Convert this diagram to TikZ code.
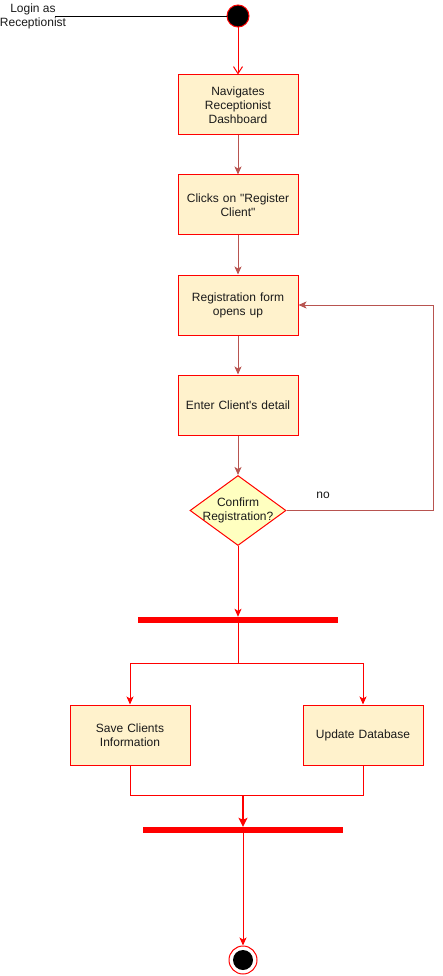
\documentclass[tikz,border=0pt]{standalone}
\usepackage{fontspec}
\setmainfont{Liberation Sans}
\newfontfamily\libsans{Liberation Sans}
\usetikzlibrary{shapes.geometric,arrows.meta}
\definecolor{actfill}{HTML}{FFF2CC}
\definecolor{decfill}{HTML}{FFFFC0}
\definecolor{brline}{HTML}{B85450}
\definecolor{txt}{HTML}{1A1A1A}
\begin{document}
\begin{tikzpicture}[x=1pt,y=-1pt,
  lbl/.style={font=\libsans\fontsize{12}{14}\selectfont, text=txt, align=center},
  act/.style={lbl, draw=red, fill=actfill, line width=1pt, minimum width=120pt, minimum height=60pt, inner sep=0pt, text width=112pt},
  dec/.style={diamond, draw=red, fill=decfill, line width=1pt, minimum width=96pt, minimum height=70pt, inner sep=0pt},
  bar/.style={rectangle, fill=red, draw=none, minimum width=200pt, minimum height=6pt, inner sep=0pt},
  tipS/.style={-{Stealth[length=8pt,width=7pt,inset=2pt]}},
  redarr/.style={draw=red, line width=1pt, tipS},
  brarr/.style={draw=brline, line width=1pt, tipS},
  redln/.style={draw=red, line width=1pt}
]
\useasboundingbox (0,0) rectangle (442,976);

% start
\node[circle, fill=black, draw=red, line width=1pt, minimum size=22pt, inner sep=0pt] (start) at (238,16) {};
\node[lbl, anchor=center] (login) at (33,16) {Login as\\Receptionist};
\coordinate (lstart) at (55,16);
\draw[black, line width=0.8pt] (lstart) -- (start.west);

% activities
\node[act] (b1) at (238,105) {Navigates\\Receptionist\\Dashboard};
\node[act] (b2) at (238,205) {Clicks on "Register\\Client"};
\node[act] (b3) at (238,305) {Registration form\\opens up};
\node[act] (b4) at (238,405) {Enter Client's detail};
\node[dec] (d) at (238,510.5) {};
\node[lbl] (dtext) at (238,510.5) {Confirm\\Registration?};
\node[lbl] (no) at (323,495) {no};

\node[bar] (bar1) at (238,620) {};
\node[act] (b5) at (130,735) {Save Clients\\Information};
\node[act] (b6) at (363,735) {Update Database};
\node[bar] (bar2) at (243,830) {};

\node[circle, draw=red, fill=white, line width=1pt, minimum size=28pt, inner sep=0pt,
  path picture={\fill[black] (path picture bounding box.center) circle (10pt);}] (end) at (243,960) {};

% connectors
\draw[draw=red, line width=1pt, -{Straight Barb[length=7pt,width=9pt]}] (start) -- (b1);
\draw[brarr] (b1) -- (b2);
\draw[brarr] (b2) -- (b3);
\draw[brarr] (b3) -- (b4);
\draw[brarr] (b4) -- (d);
\coordinate (loopc) at (433,510.5);
\draw[brarr] (d.east) -- (loopc) |- (b3.east);
\draw[redarr] (d) -- (bar1);

\coordinate (split) at (238,663);
\draw[redln] (bar1.south) -- (split);
\draw[redarr] (split) -| (b5.north);
\draw[redarr] (split) -| (b6.north);

\coordinate (jl) at (130,795);
\coordinate (join) at (243,795);
\draw[redln] (b5.south) -- (jl) -| (b6.south);
\draw[draw=red, line width=2pt, -{Stealth[length=9pt,width=9pt,inset=2pt]}] (join) -- (bar2.north);
\draw[redarr] (bar2.south) -- (end);
\end{tikzpicture}
\end{document}
